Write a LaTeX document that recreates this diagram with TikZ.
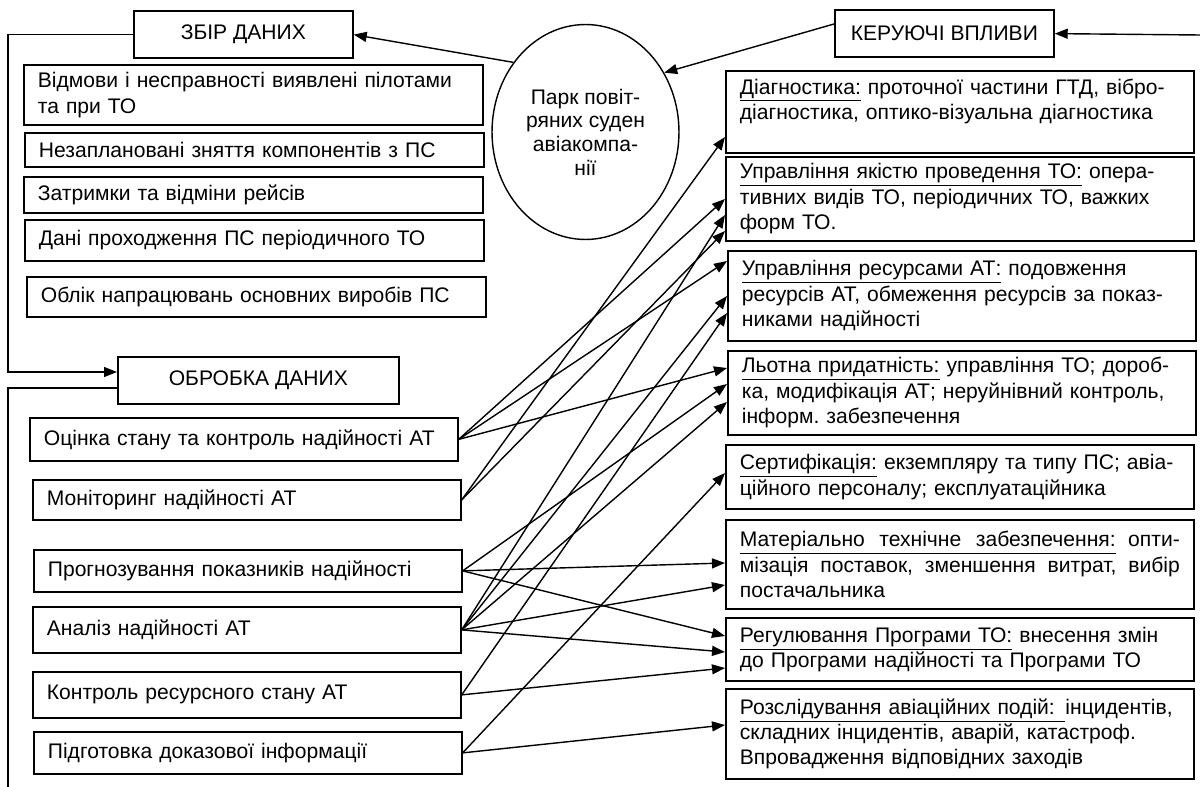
\documentclass[tikz,border=0pt]{standalone}
\usepackage{fontspec}
\setmainfont{Liberation Sans}
\usetikzlibrary{arrows.meta,shapes.geometric}

\tikzset{
  ramka/.style={draw, line width=1pt, anchor=north west, inner ysep=0pt,
    font=\fontsize{12pt}{14.5pt}\selectfont},
  danibox/.style={ramka, align=left, inner xsep=0.28cm, text width=8.62cm},
  obrobbox/.style={ramka, align=left, inner xsep=0.28cm, text width=8.0cm},
  vplyvbox/.style={ramka, align=left, inner xsep=0.28cm, text width=8.8cm},
  zagolovok/.style={ramka, align=center, minimum height=0.95cm},
  strilka/.style={-{Triangle[length=0.26cm,width=0.2cm]}, line width=0.8pt}
}

\begin{document}
\begin{tikzpicture}[x=0.02cm, y=-0.02cm] % coordinates in pixels of the sheet
        \useasboundingbox (0,0) rectangle (1200,787);

        % 1. Headings and the fleet
        \node[zagolovok, minimum width=4.38cm] (zbir) at (133,10) {ЗБІР ДАНИХ};
        \node[zagolovok, minimum width=5.62cm] (obrobka) at (117,356) {ОБРОБКА ДАНИХ};
        \node[zagolovok, minimum width=4.38cm] (keruyuchi) at (834,9) {КЕРУЮЧІ ВПЛИВИ};
        \node[draw, ellipse, line width=0.8pt, minimum width=3.74cm, minimum height=4.3cm,
              inner sep=0pt, align=center, font=\fontsize{12pt}{13.5pt}\selectfont]
              (park) at (585.5,132) {Парк повіт-\\ряних суден\\авіакомпа-\\нії};

        % 2. Data collection
        \node[danibox, minimum height=1.2cm] (vidmovy) at (23,64) {Відмови і несправності виявлені пілотами\\та при ТО};
        \node[danibox, minimum height=0.68cm] (nezapl) at (24,132) {Незаплановані зняття компонентів з ПС};
        \node[danibox, minimum height=0.72cm] (zatrymky) at (23,176) {Затримки та відміни рейсів};
        \node[danibox, minimum height=0.82cm] (dani) at (24,219) {Дані проходження ПС періодичного ТО};
        \node[danibox, minimum height=0.8cm] (oblik) at (26,276) {Облік напрацювань основних виробів ПС};

        % 3. Data processing
        \node[obrobbox, minimum height=0.86cm] (ocinka) at (29,417) {Оцінка стану та контроль надійності АТ};
        \node[obrobbox, minimum height=0.8cm] (monitor) at (32,479) {Моніторинг надійності АТ};
        \node[obrobbox, minimum height=0.84cm] (prognoz) at (33,549) {Прогнозування показників надійності};
        \node[obrobbox, minimum height=0.92cm] (analiz) at (32,606) {Аналіз надійності АТ};
        \node[obrobbox, minimum height=0.92cm] (kontrol) at (32,671) {Контроль ресурсного стану АТ};
        \node[obrobbox, minimum height=0.84cm] (pidgot) at (33,731) {Підготовка доказової інформації};

        % 4. Control actions
        \node[vplyvbox, minimum height=1.64cm] (diag) at (725,70)
            {\underline{Діагностика:} проточної частини ГТД, вібро-\\діагностика, оптико-візуальна діагностика\\\mbox{}};
        \node[vplyvbox, minimum height=1.68cm] (upryak) at (725,156)
            {\underline{Управління якістю проведення ТО:} опера-\\тивних видів ТО, періодичних ТО, важких\\форм ТО.};
        \node[vplyvbox, minimum height=1.8cm] (uprres) at (727,250)
            {\underline{Управління ресурсами АТ:} подовження\\ресурсів АТ, обмеження ресурсів за показ-\\никами надійності};
        \node[vplyvbox, minimum height=1.68cm] (lotna) at (727,350)
            {\underline{Льотна придатність:} управління ТО; дороб-\\ка, модифікація АТ; неруйнівний контроль,\\інформ.\ забезпечення};
        \node[vplyvbox, minimum height=1.28cm] (sertyf) at (725,444)
            {\underline{Сертифікація:} екземпляру та типу ПС; авіа-\\ційного персоналу; експлуатаційника};
        \node[vplyvbox, minimum height=1.78cm] (mater) at (725,519)
            {\underline{\makebox[7.52cm][s]{Матеріально\hfill технічне\hfill забезпечення:}}\hfill опти-\\
             мізація\hfill поставок,\hfill зменшення\hfill витрат,\hfill вибір\\постачальника};
        \node[vplyvbox, minimum height=1.26cm] (rehul) at (725,617)
            {\underline{Регулювання Програми ТО:} внесення змін\\до Програми надійності та Програми ТО};
        \node[vplyvbox, minimum height=1.8cm] (rozsl) at (725,688)
            {\underline{Розслідування авіаційних подій: }інцидентів,\\складних інцидентів, аварій, катастроф.\\Впровадження відповідних заходів};

        % 5. Feedback loop
        \coordinate (pravo) at (1200,35);
        \coordinate (nyz) at (8,787);
        \draw[strilka] (pravo) -- (keruyuchi.east);
        \draw[strilka] (keruyuchi.west |- 0,24) -- (park.37);
        \draw[strilka] (park.136) -- (zbir.east);
        \draw[strilka] (zbir.west) -| (8,372) -- (obrobka.west |- 0,372);
        \draw[line width=0.8pt] (obrobka.west |- 0,388) -| (nyz);

        % 6. From processing to control actions
        \foreach \dz/\cil/\yy in {monitor/diag/137, ocinka/upryak/199, analiz/upryak/215,
                monitor/upryak/231, ocinka/uprres/261, analiz/uprres/296, kontrol/uprres/313,
                ocinka/lotna/368, prognoz/lotna/384, analiz/lotna/402, pidgot/sertyf/473,
                prognoz/mater/563, analiz/mater/585, prognoz/rehul/636, analiz/rehul/652,
                kontrol/rehul/668, pidgot/rozsl/725}
            \draw[strilka] (\dz.east) -- (\cil.west |- 0,\yy);
    \end{tikzpicture}
\end{document}
